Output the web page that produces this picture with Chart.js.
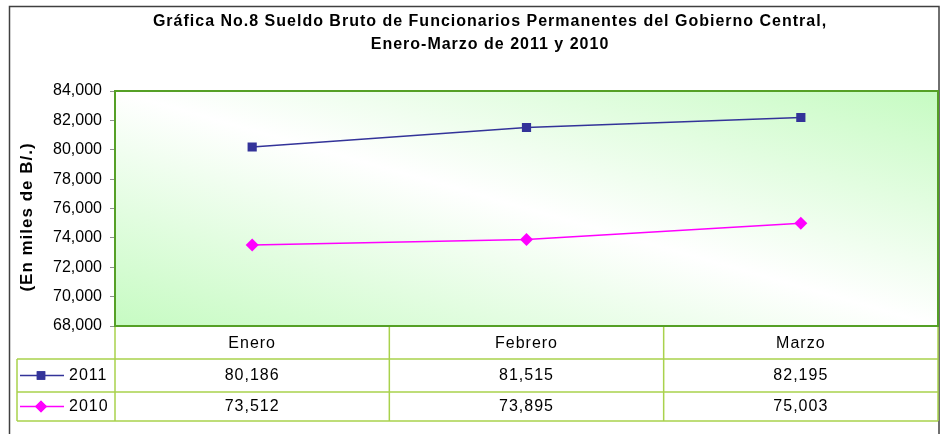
<!DOCTYPE html>
<html>
<head>
<meta charset="utf-8">
<script src="https://cdn.jsdelivr.net/npm/chart.js@4.4.0/dist/chart.umd.min.js"></script>
<style>
  html, body { margin: 0; padding: 0; background: #fff; }
  #wrap { width: 940px; height: 434px; }
</style>
</head>
<body>
<div id="wrap"><canvas id="chart" width="940" height="434"></canvas></div>
<script>
// Data
const months = ['Enero', 'Febrero', 'Marzo'];
const sueldo2011 = [80186, 81515, 82195];
const sueldo2010 = [73512, 73895, 75003];
const seriesNames = ['2011', '2010'];
const yMin = 68000, yMax = 84000, yStep = 2000;
const titleLines = [
    'Gráfica No.8 Sueldo Bruto de Funcionarios Permanentes del Gobierno Central,',
    'Enero-Marzo de 2011 y 2010'
];
const yTitle = '(En miles de B/.)';

const FONT = "'Liberation Sans', Arial, sans-serif";
const fmt = v => v.toLocaleString('en-US');

// Outer frame, titles and plot background
const backdrop = {
    id: 'backdrop',
    beforeDraw(chart) {
        const { ctx, chartArea: a } = chart;
        ctx.save();
        ctx.strokeStyle = '#404040';
        ctx.lineWidth = 1.5;
        ctx.strokeRect(9.5, 6.5, 929.5, 500);

        // diagonal gradient, white band along the top-left -> bottom-right diagonal
        const w = a.right - a.left, h = a.bottom - a.top;
        const cx = a.left + w / 2, cy = a.top + h / 2;
        const k = w * h / (w * w + h * h);
        const g = ctx.createLinearGradient(cx - k * h, cy + k * w, cx + k * h, cy - k * w);
        g.addColorStop(0, '#c6fbc2');
        g.addColorStop(0.5, '#ffffff');
        g.addColorStop(1, '#c6fbc2');
        ctx.fillStyle = g;
        ctx.fillRect(a.left, a.top, w, h);

        ctx.fillStyle = '#000';
        ctx.font = 'bold 16px ' + FONT;
        ctx.letterSpacing = '1px';
        ctx.textAlign = 'center';
        ctx.textBaseline = 'middle';
        ctx.fillText(titleLines[0], 490, 22);
        ctx.fillText(titleLines[1], 490, 45);

        // rotated y-axis title
        ctx.translate(27, 217);
        ctx.rotate(-Math.PI / 2);
        ctx.font = 'bold 17px ' + FONT;
        ctx.letterSpacing = '1px';
        ctx.fillText(yTitle, 0, 0);
        ctx.restore();
    },
    beforeDatasetsDraw(chart) {
        const { ctx, chartArea: a } = chart;
        ctx.save();
        ctx.strokeStyle = '#55a026';
        ctx.lineWidth = 2;
        ctx.strokeRect(a.left, a.top, a.right - a.left, a.bottom - a.top);
        ctx.restore();
    }
};

// Excel-style data table under the plot
const dataTable = {
    id: 'dataTable',
    afterDraw(chart) {
        const { ctx, chartArea: a, scales: { x } } = chart;
        const rows = [a.bottom, a.bottom + 33, a.bottom + 66, a.bottom + 95];
        const legendLeft = 17;
        const bounds = [a.left];
        for (let i = 1; i < months.length; i++) {
            bounds.push((x.getPixelForValue(i - 1) + x.getPixelForValue(i)) / 2);
        }
        bounds.push(a.right);

        ctx.save();
        ctx.strokeStyle = '#a9d24c';
        ctx.lineWidth = 1.5;
        ctx.beginPath();
        for (let r = 1; r < rows.length; r++) {
            ctx.moveTo(legendLeft, rows[r]);
            ctx.lineTo(a.right, rows[r]);
        }
        bounds.forEach(bx => {
            ctx.moveTo(bx, rows[0] + 1);
            ctx.lineTo(bx, rows[3]);
        });
        ctx.moveTo(legendLeft, rows[1]);
        ctx.lineTo(legendLeft, rows[3]);
        ctx.stroke();

        ctx.fillStyle = '#000';
        ctx.font = '16px ' + FONT;
        ctx.letterSpacing = '1px';
        ctx.textAlign = 'center';
        ctx.textBaseline = 'middle';
        months.forEach((m, i) => {
            ctx.fillText(m, x.getPixelForValue(i), (rows[0] + rows[1]) / 2 + 1);
        });
        chart.data.datasets.forEach((ds, d) => {
            const cy = (rows[d + 1] + rows[d + 2]) / 2;
            ds.data.forEach((v, i) => {
                ctx.fillText(fmt(v), x.getPixelForValue(i), cy);
            });
            // legend key
            ctx.strokeStyle = ds.borderColor;
            ctx.lineWidth = 1.5;
            ctx.beginPath();
            ctx.moveTo(20, cy);
            ctx.lineTo(64, cy);
            ctx.stroke();
            ctx.fillStyle = ds.pointBackgroundColor;
            Chart.helpers.drawPoint(ctx, {
                pointStyle: ds.pointStyle, radius: ds.pointRadius - 0.5, rotation: 0, borderWidth: 0
            }, 41, cy);
            ctx.fill();
            ctx.fillStyle = '#000';
            ctx.textAlign = 'left';
            ctx.fillText(ds.label, 69, cy);
            ctx.textAlign = 'center';
        });
        ctx.restore();
    }
};

new Chart(document.getElementById('chart'), {
    type: 'line',
    data: {
        labels: months,
        datasets: [
            {
                label: seriesNames[0], data: sueldo2011,
                borderColor: '#333399', backgroundColor: '#333399',
                pointBackgroundColor: '#333399', pointBorderColor: '#333399',
                pointStyle: 'rect', pointRadius: 6.5, borderWidth: 1.5, pointBorderWidth: 0
            },
            {
                label: seriesNames[1], data: sueldo2010,
                borderColor: '#ff00ff', backgroundColor: '#ff00ff',
                pointBackgroundColor: '#ff00ff', pointBorderColor: '#ff00ff',
                pointStyle: 'rectRot', pointRadius: 6.5, borderWidth: 1.5, pointBorderWidth: 0
            }
        ]
    },
    options: {
        responsive: false,
        animation: false,
        layout: { autoPadding: false, padding: { top: 91, left: 10, right: 2, bottom: 108 } },
        plugins: {
            legend: { display: false },
            title: { display: false },
            tooltip: { enabled: false }
        },
        scales: {
            x: {
                display: false,
                offset: true
            },
            y: {
                min: yMin, max: yMax,
                border: { display: false },
                grid: { drawOnChartArea: false, tickLength: 5, color: '#909090' },
                ticks: {
                    stepSize: yStep, color: '#000', padding: 8,
                    font: { family: FONT, size: 16 },
                    callback: v => fmt(v)
                },
                afterFit(scale) { scale.width = 105; }
            }
        }
    },
    plugins: [backdrop, dataTable]
});
</script>
</body>
</html>
